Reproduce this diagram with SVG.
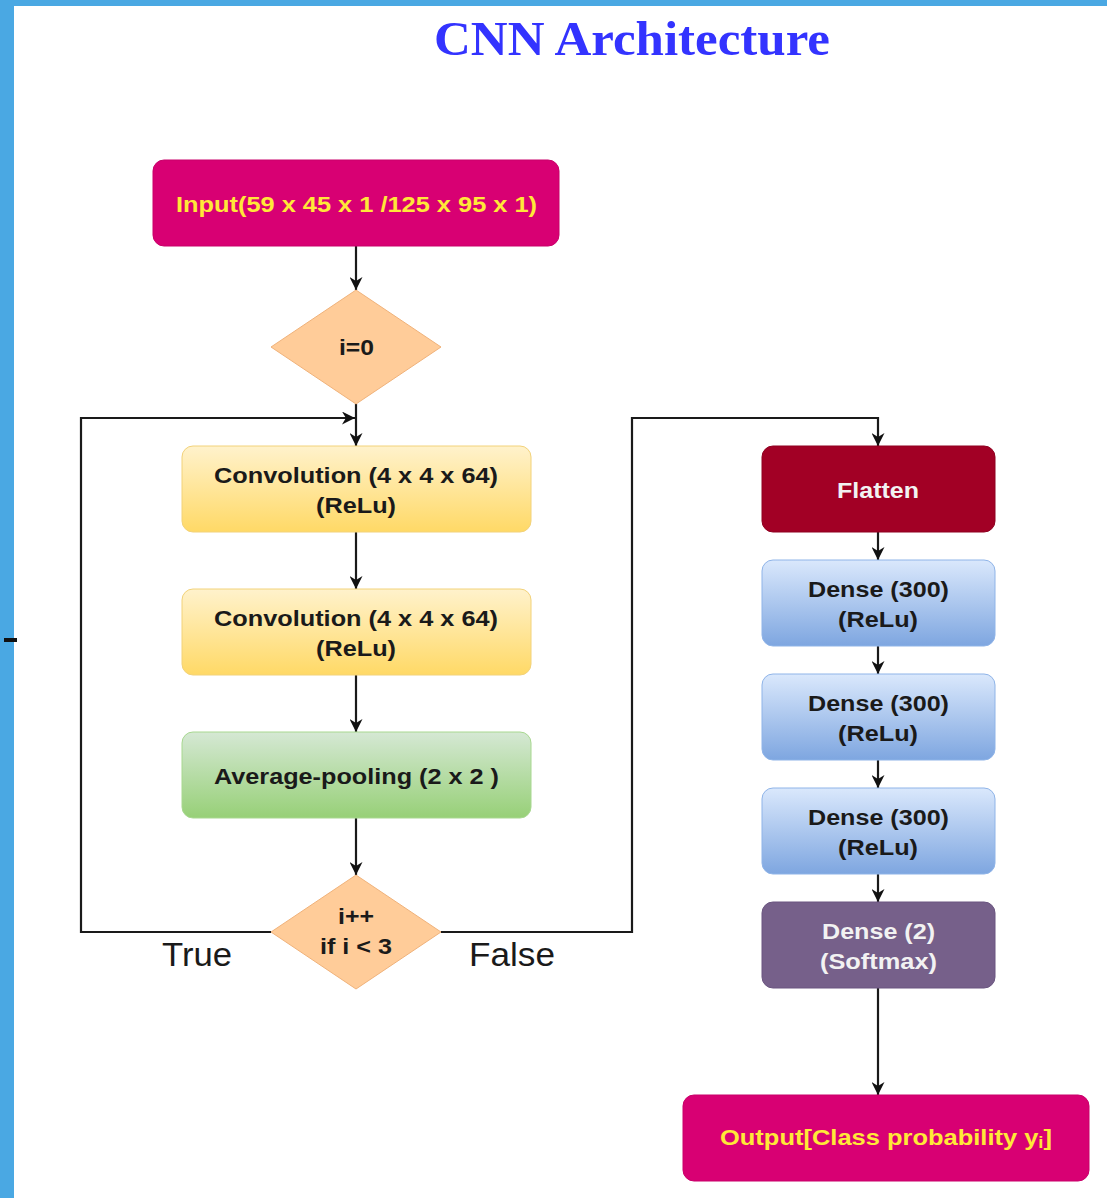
<svg xmlns="http://www.w3.org/2000/svg" width="1107" height="1198" viewBox="0 0 1107 1198">
<defs>
<linearGradient id="gY" x1="0" y1="0" x2="0" y2="1"><stop offset="0" stop-color="#fff2cc"/><stop offset="1" stop-color="#ffd966"/></linearGradient>
<linearGradient id="gG" x1="0" y1="0" x2="0" y2="1"><stop offset="0" stop-color="#d5e8d4"/><stop offset="1" stop-color="#97d077"/></linearGradient>
<linearGradient id="gB" x1="0" y1="0" x2="0" y2="1"><stop offset="0" stop-color="#dae8fc"/><stop offset="1" stop-color="#7ea6e0"/></linearGradient>
<marker id="ah" markerUnits="userSpaceOnUse" markerWidth="13" markerHeight="13" viewBox="0 0 10 10" refX="10" refY="5" orient="auto"><path d="M0,0 L10,5 L0,10 L3,5 z" fill="#111"/></marker>
</defs>
<style>
.t{font-family:"Liberation Sans",Arial,sans-serif;font-weight:bold;font-size:22px;text-anchor:middle;fill:#1a1a1a}
.y{fill:#ffe838}
.w{fill:#f2f2f2}
.lbl{font-family:"Liberation Sans",Arial,sans-serif;font-size:33px;text-anchor:middle;fill:#1a1a1a}
.c{fill:none;stroke:#1a1a1a;stroke-width:2.2;marker-end:url(#ah)}
.d{fill:#ffcc99;stroke:#f0b27a;stroke-width:1}
</style>
<rect x="0" y="0" width="1107" height="1198" fill="#ffffff"/>
<rect x="0" y="0" width="1107" height="6" fill="#4aa8e3"/>
<rect x="0" y="0" width="14" height="1198" fill="#4aa8e3"/>
<rect x="4" y="638" width="13" height="4" fill="#111"/>
<text x="632" y="55" font-family="'Liberation Serif','Times New Roman',serif" font-weight="bold" font-size="48" fill="#3333ff" text-anchor="middle" textLength="396" lengthAdjust="spacingAndGlyphs">CNN Architecture</text>

<g id="connectors">
<path class="c" d="M356,246 V290"/>
<path class="c" d="M356,404 V446"/>
<path class="c" d="M356,532 V589"/>
<path class="c" d="M356,675 V732"/>
<path class="c" d="M356,818 V875"/>
<path class="c" d="M271,932 H81 V418 H355"/>
<path class="c" d="M441,932 H632 V418 H878 V446"/>
<path class="c" d="M878,532 V560"/>
<path class="c" d="M878,646 V674"/>
<path class="c" d="M878,760 V788"/>
<path class="c" d="M878,874 V902"/>
<path class="c" d="M878,988 V1095"/>
<text class="lbl" x="197" y="966" textLength="70" lengthAdjust="spacingAndGlyphs">True</text>
<text class="lbl" x="512" y="966" textLength="86" lengthAdjust="spacingAndGlyphs">False</text>
</g>

<g id="input">
<rect x="153" y="160" width="406" height="86" rx="11" fill="#d80073" stroke="#c9006a"/>
<text class="t y" x="356.5" y="212" textLength="361" lengthAdjust="spacingAndGlyphs">Input(59 x 45 x 1 /125 x 95 x 1)</text>
</g>
<g id="init">
<polygon class="d" points="356,290 441,347 356,404 271,347"/>
<text class="t" x="356.5" y="355" textLength="35" lengthAdjust="spacingAndGlyphs">i=0</text>
</g>
<g id="conv1">
<rect x="182" y="446" width="349" height="86" rx="11" fill="url(#gY)" stroke="#f2d27a"/>
<text class="t" x="356" y="483" textLength="284" lengthAdjust="spacingAndGlyphs">Convolution (4 x 4 x 64)</text>
<text class="t" x="356" y="513" textLength="80" lengthAdjust="spacingAndGlyphs">(ReLu)</text>
</g>
<g id="conv2">
<rect x="182" y="589" width="349" height="86" rx="11" fill="url(#gY)" stroke="#f2d27a"/>
<text class="t" x="356" y="626" textLength="284" lengthAdjust="spacingAndGlyphs">Convolution (4 x 4 x 64)</text>
<text class="t" x="356" y="656" textLength="80" lengthAdjust="spacingAndGlyphs">(ReLu)</text>
</g>
<g id="pool">
<rect x="182" y="732" width="349" height="86" rx="11" fill="url(#gG)" stroke="#a8d890"/>
<text class="t" x="356.5" y="784" textLength="285" lengthAdjust="spacingAndGlyphs">Average-pooling (2 x 2 )</text>
</g>
<g id="cond">
<polygon class="d" points="356,875 441,932 356,989 271,932"/>
<text class="t" x="356" y="924" textLength="36" lengthAdjust="spacingAndGlyphs">i++</text>
<text class="t" x="356" y="954" textLength="72" lengthAdjust="spacingAndGlyphs">if i &lt; 3</text>
</g>
<g id="flatten">
<rect x="762" y="446" width="233" height="86" rx="11" fill="#a20025" stroke="#8f0020"/>
<text class="t w" x="878" y="498" textLength="82" lengthAdjust="spacingAndGlyphs">Flatten</text>
</g>
<g id="dense1">
<rect x="762" y="560" width="233" height="86" rx="11" fill="url(#gB)" stroke="#8fb4e8"/>
<text class="t" x="878.5" y="597" textLength="141" lengthAdjust="spacingAndGlyphs">Dense (300)</text>
<text class="t" x="878" y="627" textLength="80" lengthAdjust="spacingAndGlyphs">(ReLu)</text>
</g>
<g id="dense2">
<rect x="762" y="674" width="233" height="86" rx="11" fill="url(#gB)" stroke="#8fb4e8"/>
<text class="t" x="878.5" y="711" textLength="141" lengthAdjust="spacingAndGlyphs">Dense (300)</text>
<text class="t" x="878" y="741" textLength="80" lengthAdjust="spacingAndGlyphs">(ReLu)</text>
</g>
<g id="dense3">
<rect x="762" y="788" width="233" height="86" rx="11" fill="url(#gB)" stroke="#8fb4e8"/>
<text class="t" x="878.5" y="825" textLength="141" lengthAdjust="spacingAndGlyphs">Dense (300)</text>
<text class="t" x="878" y="855" textLength="80" lengthAdjust="spacingAndGlyphs">(ReLu)</text>
</g>
<g id="softmax">
<rect x="762" y="902" width="233" height="86" rx="11" fill="#76608a" stroke="#6a5580"/>
<text class="t w" x="878.5" y="939" textLength="113" lengthAdjust="spacingAndGlyphs">Dense (2)</text>
<text class="t w" x="878.5" y="969" textLength="117" lengthAdjust="spacingAndGlyphs">(Softmax)</text>
</g>
<g id="output">
<rect x="683" y="1095" width="406" height="86" rx="11" fill="#d80073" stroke="#c9006a"/>
<text class="t y" x="886" y="1145" font-size="24" textLength="332" lengthAdjust="spacingAndGlyphs">Output[Class probability y<tspan font-size="16" dy="3">i</tspan><tspan dy="-3">]</tspan></text>
</g>
</svg>
